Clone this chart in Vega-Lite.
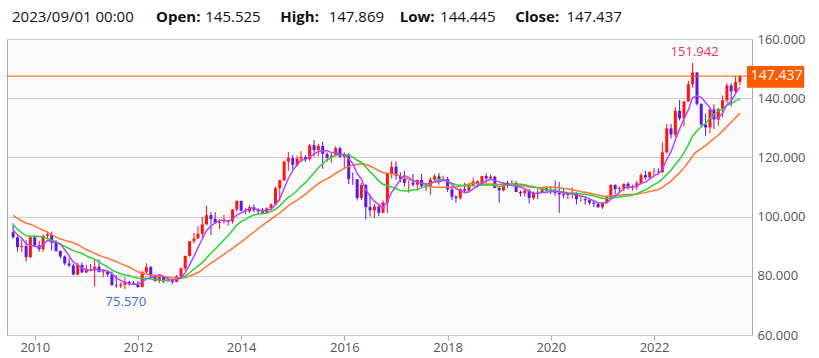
{
  "$schema": "https://vega.github.io/schema/vega-lite/v6.json",
  "width": 745,
  "height": 296,
  "autosize": {"type": "none"},
  "padding": {"left": 7, "top": 39, "right": 67, "bottom": 23},
  "background": "#ffffff",
  "config": {
    "view": {"fill": "#fafafa", "stroke": "#aaaaaa", "strokeWidth": 1},
    "font": "Open Sans"
  },
  "data": {
    "values": [
      {"date":"2009-08-01","open":94.7,"high":97.8,"low":92.6,"close":93.0,"ma5":95.60,"ma13":97.20,"ma21":100.42},
      {"date":"2009-09-01","open":93.0,"high":93.3,"low":88.2,"close":89.7,"ma5":93.82,"ma13":95.73,"ma21":99.38},
      {"date":"2009-10-01","open":89.7,"high":92.3,"low":88.0,"close":90.1,"ma5":92.78,"ma13":94.50,"ma21":98.60},
      {"date":"2009-11-01","open":90.1,"high":92.0,"low":84.8,"close":86.3,"ma5":90.76,"ma13":93.57,"ma21":97.76},
      {"date":"2009-12-01","open":86.3,"high":93.1,"low":86.0,"close":93.0,"ma5":90.42,"ma13":93.38,"ma21":97.44},
      {"date":"2010-01-01","open":93.0,"high":93.8,"low":89.9,"close":90.3,"ma5":89.88,"ma13":93.36,"ma21":96.79},
      {"date":"2010-02-01","open":90.3,"high":91.8,"low":88.1,"close":89.0,"ma5":89.74,"ma13":93.29,"ma21":96.00},
      {"date":"2010-03-01","open":89.0,"high":93.8,"low":88.1,"close":93.5,"ma5":90.42,"ma13":92.98,"ma21":95.40},
      {"date":"2010-04-01","open":93.5,"high":94.9,"low":92.4,"close":94.0,"ma5":91.96,"ma13":92.61,"ma21":94.74},
      {"date":"2010-05-01","open":94.0,"high":94.9,"low":88.6,"close":91.2,"ma5":91.60,"ma13":92.04,"ma21":93.90},
      {"date":"2010-06-01","open":91.2,"high":92.0,"low":88.1,"close":88.4,"ma5":91.22,"ma13":91.51,"ma21":93.06},
      {"date":"2010-07-01","open":88.4,"high":88.5,"low":85.9,"close":86.5,"ma5":90.72,"ma13":90.75,"ma21":92.49},
      {"date":"2010-08-01","open":86.5,"high":86.9,"low":83.6,"close":84.2,"ma5":88.86,"ma13":89.94,"ma21":91.96},
      {"date":"2010-09-01","open":84.2,"high":85.9,"low":82.9,"close":83.5,"ma5":86.76,"ma13":89.21,"ma21":91.62},
      {"date":"2010-10-01","open":83.5,"high":84.0,"low":80.2,"close":80.4,"ma5":84.60,"ma13":88.49,"ma21":91.17},
      {"date":"2010-11-01","open":80.4,"high":84.4,"low":80.2,"close":83.7,"ma5":83.66,"ma13":88.00,"ma21":90.50},
      {"date":"2010-12-01","open":83.7,"high":84.5,"low":81.1,"close":81.1,"ma5":82.58,"ma13":87.60,"ma21":89.66},
      {"date":"2011-01-01","open":81.1,"high":83.7,"low":81.0,"close":82.0,"ma5":82.14,"ma13":86.75,"ma21":88.87},
      {"date":"2011-02-01","open":82.0,"high":84.0,"low":81.5,"close":81.8,"ma5":81.80,"ma13":86.10,"ma21":88.23},
      {"date":"2011-03-01","open":81.8,"high":85.5,"low":76.3,"close":83.1,"ma5":82.34,"ma13":85.65,"ma21":87.60},
      {"date":"2011-04-01","open":83.1,"high":85.5,"low":81.3,"close":81.2,"ma5":81.84,"ma13":84.70,"ma21":86.95},
      {"date":"2011-05-01","open":81.2,"high":82.2,"low":79.6,"close":81.5,"ma5":81.92,"ma13":83.74,"ma21":86.40},
      {"date":"2011-06-01","open":81.5,"high":81.6,"low":79.7,"close":80.5,"ma5":81.62,"ma13":82.92,"ma21":85.97},
      {"date":"2011-07-01","open":80.5,"high":81.5,"low":76.8,"close":76.8,"ma5":80.62,"ma13":82.02,"ma21":85.33},
      {"date":"2011-08-01","open":76.8,"high":80.2,"low":75.9,"close":76.6,"ma5":79.32,"ma13":81.26,"ma21":84.87},
      {"date":"2011-09-01","open":76.6,"high":77.8,"low":75.9,"close":77.0,"ma5":78.48,"ma13":80.71,"ma21":84.11},
      {"date":"2011-10-01","open":77.0,"high":79.5,"low":75.57,"close":78.0,"ma5":77.78,"ma13":80.28,"ma21":83.52},
      {"date":"2011-11-01","open":78.0,"high":78.3,"low":76.6,"close":77.6,"ma5":77.20,"ma13":80.07,"ma21":82.98},
      {"date":"2011-12-01","open":77.6,"high":78.3,"low":76.9,"close":76.9,"ma5":77.22,"ma13":79.55,"ma21":82.19},
      {"date":"2012-01-01","open":76.9,"high":78.3,"low":76.0,"close":76.2,"ma5":77.14,"ma13":79.17,"ma21":81.34},
      {"date":"2012-02-01","open":76.2,"high":81.7,"low":76.1,"close":81.2,"ma5":77.98,"ma13":79.11,"ma21":80.87},
      {"date":"2012-03-01","open":81.2,"high":84.2,"low":80.9,"close":82.9,"ma5":78.96,"ma13":79.19,"ma21":80.60},
      {"date":"2012-04-01","open":82.9,"high":83.3,"low":79.6,"close":80.0,"ma5":79.44,"ma13":78.95,"ma21":80.30},
      {"date":"2012-05-01","open":80.0,"high":80.5,"low":78.0,"close":78.3,"ma5":79.72,"ma13":78.73,"ma21":80.01},
      {"date":"2012-06-01","open":78.3,"high":80.6,"low":77.6,"close":79.8,"ma5":80.44,"ma13":78.60,"ma21":79.84},
      {"date":"2012-07-01","open":79.8,"high":79.9,"low":77.6,"close":78.1,"ma5":79.82,"ma13":78.42,"ma21":79.73},
      {"date":"2012-08-01","open":78.1,"high":79.7,"low":78.1,"close":78.4,"ma5":78.92,"ma13":78.54,"ma21":79.48},
      {"date":"2012-09-01","open":78.4,"high":79.2,"low":77.1,"close":77.9,"ma5":78.50,"ma13":78.64,"ma21":79.32},
      {"date":"2012-10-01","open":77.9,"high":80.3,"low":77.8,"close":79.8,"ma5":78.80,"ma13":78.85,"ma21":79.22},
      {"date":"2012-11-01","open":79.8,"high":82.8,"low":79.0,"close":82.5,"ma5":79.34,"ma13":79.20,"ma21":79.25},
      {"date":"2012-12-01","open":82.5,"high":86.8,"low":81.7,"close":86.7,"ma5":81.06,"ma13":79.90,"ma21":79.42},
      {"date":"2013-01-01","open":86.7,"high":91.8,"low":86.5,"close":91.7,"ma5":83.72,"ma13":81.04,"ma21":79.92},
      {"date":"2013-02-01","open":91.7,"high":94.5,"low":90.9,"close":92.6,"ma5":86.66,"ma13":82.30,"ma21":80.45},
      {"date":"2013-03-01","open":92.6,"high":96.7,"low":92.5,"close":94.2,"ma5":89.54,"ma13":83.30,"ma21":81.10},
      {"date":"2013-04-01","open":94.2,"high":99.9,"low":92.6,"close":97.4,"ma5":92.52,"ma13":84.42,"ma21":82.09},
      {"date":"2013-05-01","open":97.4,"high":103.7,"low":97.1,"close":100.5,"ma5":95.28,"ma13":85.99,"ma21":83.22},
      {"date":"2013-06-01","open":100.5,"high":101.5,"low":93.8,"close":99.2,"ma5":96.78,"ma13":87.60,"ma21":84.28},
      {"date":"2013-07-01","open":99.2,"high":101.5,"low":97.6,"close":97.9,"ma5":97.84,"ma13":88.99,"ma21":85.23},
      {"date":"2013-08-01","open":97.9,"high":99.1,"low":95.8,"close":98.2,"ma5":98.64,"ma13":90.54,"ma21":86.21},
      {"date":"2013-09-01","open":98.2,"high":100.6,"low":97.6,"close":98.3,"ma5":98.82,"ma13":92.07,"ma21":87.23},
      {"date":"2013-10-01","open":98.3,"high":99.0,"low":96.9,"close":98.4,"ma5":98.40,"ma13":93.65,"ma21":88.29},
      {"date":"2013-11-01","open":98.4,"high":102.5,"low":97.6,"close":102.4,"ma5":99.04,"ma13":95.38,"ma21":89.30},
      {"date":"2013-12-01","open":102.4,"high":105.4,"low":101.6,"close":105.3,"ma5":100.52,"ma13":97.14,"ma21":90.36},
      {"date":"2014-01-01","open":105.3,"high":105.4,"low":101.8,"close":102.0,"ma5":101.28,"ma13":98.32,"ma21":91.41},
      {"date":"2014-02-01","open":102.0,"high":102.8,"low":100.8,"close":101.8,"ma5":101.98,"ma13":99.09,"ma21":92.53},
      {"date":"2014-03-01","open":101.8,"high":103.8,"low":101.2,"close":103.2,"ma5":102.94,"ma13":99.91,"ma21":93.64},
      {"date":"2014-04-01","open":103.2,"high":104.1,"low":101.4,"close":102.2,"ma5":102.90,"ma13":100.52,"ma21":94.79},
      {"date":"2014-05-01","open":102.2,"high":102.8,"low":100.8,"close":101.8,"ma5":102.20,"ma13":100.86,"ma21":95.90},
      {"date":"2014-06-01","open":101.8,"high":102.8,"low":101.1,"close":101.3,"ma5":102.06,"ma13":100.92,"ma21":97.02},
      {"date":"2014-07-01","open":101.3,"high":103.1,"low":101.1,"close":102.8,"ma5":102.26,"ma13":101.20,"ma21":98.11},
      {"date":"2014-08-01","open":102.8,"high":104.5,"low":102.0,"close":104.1,"ma5":102.44,"ma13":101.68,"ma21":99.14},
      {"date":"2014-09-01","open":104.1,"high":110.1,"low":103.7,"close":109.6,"ma5":103.92,"ma13":102.55,"ma21":100.23},
      {"date":"2014-10-01","open":109.6,"high":112.5,"low":105.2,"close":112.3,"ma5":106.02,"ma13":103.63,"ma21":101.21},
      {"date":"2014-11-01","open":112.3,"high":118.9,"low":112.0,"close":118.6,"ma5":109.48,"ma13":105.18,"ma21":102.45},
      {"date":"2014-12-01","open":118.6,"high":121.8,"low":115.5,"close":119.8,"ma5":112.88,"ma13":106.52,"ma21":103.67},
      {"date":"2015-01-01","open":119.8,"high":120.8,"low":115.9,"close":117.5,"ma5":115.56,"ma13":107.46,"ma21":104.63},
      {"date":"2015-02-01","open":117.5,"high":120.5,"low":116.8,"close":119.6,"ma5":117.56,"ma13":108.82,"ma21":105.54},
      {"date":"2015-03-01","open":119.6,"high":122.0,"low":118.3,"close":120.1,"ma5":119.12,"ma13":110.22,"ma21":106.53},
      {"date":"2015-04-01","open":120.1,"high":120.8,"low":118.5,"close":119.4,"ma5":119.28,"ma13":111.47,"ma21":107.56},
      {"date":"2015-05-01","open":119.4,"high":124.5,"low":118.9,"close":124.1,"ma5":120.14,"ma13":113.15,"ma21":108.79},
      {"date":"2015-06-01","open":124.1,"high":125.9,"low":120.4,"close":122.5,"ma5":121.14,"ma13":114.75,"ma21":109.94},
      {"date":"2015-07-01","open":122.5,"high":124.6,"low":120.4,"close":123.9,"ma5":122.00,"ma13":116.48,"ma21":111.16},
      {"date":"2015-08-01","open":123.9,"high":125.3,"low":116.2,"close":121.2,"ma5":122.22,"ma13":117.90,"ma21":112.05},
      {"date":"2015-09-01","open":121.2,"high":121.7,"low":118.6,"close":119.9,"ma5":122.32,"ma13":119.12,"ma21":112.75},
      {"date":"2015-10-01","open":119.9,"high":121.5,"low":118.1,"close":120.6,"ma5":121.62,"ma13":119.96,"ma21":113.63},
      {"date":"2015-11-01","open":120.6,"high":123.8,"low":120.3,"close":123.1,"ma5":121.74,"ma13":120.79,"ma21":114.65},
      {"date":"2015-12-01","open":123.1,"high":123.7,"low":119.9,"close":120.2,"ma5":121.00,"ma13":120.92,"ma21":115.46},
      {"date":"2016-01-01","open":120.2,"high":121.7,"low":116.0,"close":121.0,"ma5":120.96,"ma13":121.01,"ma21":116.35},
      {"date":"2016-02-01","open":121.0,"high":121.5,"low":111.0,"close":112.7,"ma5":119.52,"ma13":120.64,"ma21":116.87},
      {"date":"2016-03-01","open":112.7,"high":114.9,"low":110.7,"close":112.6,"ma5":117.92,"ma13":120.10,"ma21":117.41},
      {"date":"2016-04-01","open":112.6,"high":112.7,"low":105.5,"close":106.3,"ma5":114.56,"ma13":119.04,"ma21":117.58},
      {"date":"2016-05-01","open":106.3,"high":111.4,"low":105.6,"close":110.7,"ma5":112.66,"ma13":118.37,"ma21":117.89},
      {"date":"2016-06-01","open":110.7,"high":110.9,"low":99.0,"close":103.2,"ma5":109.10,"ma13":116.76,"ma21":117.59},
      {"date":"2016-07-01","open":103.2,"high":107.5,"low":100.0,"close":102.1,"ma5":106.98,"ma13":115.19,"ma21":117.10},
      {"date":"2016-08-01","open":102.1,"high":104.3,"low":99.5,"close":103.4,"ma5":105.14,"ma13":113.62,"ma21":116.38},
      {"date":"2016-09-01","open":103.4,"high":104.0,"low":100.1,"close":101.3,"ma5":104.14,"ma13":112.08,"ma21":115.50},
      {"date":"2016-10-01","open":101.3,"high":105.5,"low":101.2,"close":104.8,"ma5":102.96,"ma13":110.92,"ma21":114.89},
      {"date":"2016-11-01","open":104.8,"high":114.8,"low":101.2,"close":114.5,"ma5":105.22,"ma13":110.45,"ma21":114.65},
      {"date":"2016-12-01","open":114.5,"high":118.7,"low":112.9,"close":116.9,"ma5":108.18,"ma13":109.98,"ma21":114.50},
      {"date":"2017-01-01","open":116.9,"high":118.6,"low":112.5,"close":113.8,"ma5":110.26,"ma13":109.48,"ma21":114.23},
      {"date":"2017-02-01","open":113.8,"high":114.9,"low":111.6,"close":112.8,"ma5":112.56,"ma13":108.85,"ma21":113.69},
      {"date":"2017-03-01","open":112.8,"high":115.5,"low":110.1,"close":111.4,"ma5":113.88,"ma13":108.75,"ma21":113.16},
      {"date":"2017-04-01","open":111.4,"high":112.2,"low":108.1,"close":111.5,"ma5":113.28,"ma13":108.67,"ma21":112.57},
      {"date":"2017-05-01","open":111.5,"high":114.4,"low":110.2,"close":110.8,"ma5":112.06,"ma13":109.02,"ma21":112.08},
      {"date":"2017-06-01","open":110.8,"high":112.5,"low":108.8,"close":112.4,"ma5":111.78,"ma13":109.15,"ma21":111.72},
      {"date":"2017-07-01","open":112.4,"high":114.5,"low":110.0,"close":110.3,"ma5":111.28,"ma13":109.69,"ma21":111.23},
      {"date":"2017-08-01","open":110.3,"high":111.1,"low":108.6,"close":110.0,"ma5":111.00,"ma13":110.30,"ma21":110.60},
      {"date":"2017-09-01","open":110.0,"high":113.3,"low":107.3,"close":112.5,"ma5":111.20,"ma13":111.00,"ma21":110.24},
      {"date":"2017-10-01","open":112.5,"high":114.4,"low":111.7,"close":113.6,"ma5":111.76,"ma13":111.95,"ma21":109.89},
      {"date":"2017-11-01","open":113.6,"high":114.7,"low":110.8,"close":112.5,"ma5":111.78,"ma13":112.54,"ma21":109.88},
      {"date":"2017-12-01","open":112.5,"high":113.8,"low":111.9,"close":112.7,"ma5":112.26,"ma13":112.40,"ma21":109.88},
      {"date":"2018-01-01","open":112.7,"high":113.4,"low":108.3,"close":109.2,"ma5":112.10,"ma13":111.81,"ma21":110.02},
      {"date":"2018-02-01","open":109.2,"high":110.5,"low":105.6,"close":106.7,"ma5":110.94,"ma13":111.26,"ma21":109.83},
      {"date":"2018-03-01","open":106.7,"high":107.3,"low":104.6,"close":106.3,"ma5":109.48,"ma13":110.76,"ma21":109.98},
      {"date":"2018-04-01","open":106.3,"high":109.6,"low":105.7,"close":109.3,"ma5":108.84,"ma13":110.60,"ma21":110.32},
      {"date":"2018-05-01","open":109.3,"high":111.4,"low":108.1,"close":108.8,"ma5":108.06,"ma13":110.39,"ma21":110.58},
      {"date":"2018-06-01","open":108.8,"high":111.0,"low":108.1,"close":110.7,"ma5":108.36,"ma13":110.38,"ma21":111.02},
      {"date":"2018-07-01","open":110.7,"high":113.2,"low":110.3,"close":111.9,"ma5":109.40,"ma13":110.35,"ma21":111.36},
      {"date":"2018-08-01","open":111.9,"high":112.2,"low":109.8,"close":111.0,"ma5":110.34,"ma13":110.40,"ma21":111.20},
      {"date":"2018-09-01","open":111.0,"high":113.8,"low":110.4,"close":113.7,"ma5":111.22,"ma13":110.68,"ma21":111.04},
      {"date":"2018-10-01","open":113.7,"high":114.6,"low":111.4,"close":112.9,"ma5":112.04,"ma13":110.72,"ma21":111.00},
      {"date":"2018-11-01","open":112.9,"high":114.2,"low":112.3,"close":113.5,"ma5":112.60,"ma13":110.71,"ma21":111.03},
      {"date":"2018-12-01","open":113.5,"high":113.8,"low":109.5,"close":109.7,"ma5":112.16,"ma13":110.49,"ma21":110.95},
      {"date":"2019-01-01","open":109.7,"high":110.0,"low":104.7,"close":108.9,"ma5":111.74,"ma13":110.20,"ma21":110.83},
      {"date":"2019-02-01","open":108.9,"high":111.5,"low":108.5,"close":111.4,"ma5":111.28,"ma13":110.37,"ma21":110.86},
      {"date":"2019-03-01","open":111.4,"high":112.1,"low":109.7,"close":110.9,"ma5":110.88,"ma13":110.69,"ma21":110.79},
      {"date":"2019-04-01","open":110.9,"high":112.4,"low":110.8,"close":111.4,"ma5":110.46,"ma13":111.08,"ma21":110.84},
      {"date":"2019-05-01","open":111.4,"high":112.0,"low":108.3,"close":108.3,"ma5":110.18,"ma13":111.01,"ma21":110.76},
      {"date":"2019-06-01","open":108.3,"high":108.8,"low":106.8,"close":107.9,"ma5":109.98,"ma13":110.94,"ma21":110.54},
      {"date":"2019-07-01","open":107.9,"high":109.3,"low":106.8,"close":108.8,"ma5":109.46,"ma13":110.79,"ma21":110.31},
      {"date":"2019-08-01","open":108.8,"high":109.3,"low":104.4,"close":106.3,"ma5":108.54,"ma13":110.36,"ma21":110.01},
      {"date":"2019-09-01","open":106.3,"high":108.5,"low":105.7,"close":108.1,"ma5":107.88,"ma13":110.14,"ma21":109.80},
      {"date":"2019-10-01","open":108.1,"high":109.3,"low":105.9,"close":108.0,"ma5":107.82,"ma13":109.70,"ma21":109.74},
      {"date":"2019-11-01","open":108.0,"high":109.7,"low":107.9,"close":109.5,"ma5":108.14,"ma13":109.44,"ma21":109.87},
      {"date":"2019-12-01","open":109.5,"high":109.7,"low":108.4,"close":108.7,"ma5":108.12,"ma13":109.07,"ma21":109.99},
      {"date":"2020-01-01","open":108.7,"high":110.3,"low":107.6,"close":108.4,"ma5":108.54,"ma13":108.97,"ma21":109.94},
      {"date":"2020-02-01","open":108.4,"high":112.2,"low":107.0,"close":108.0,"ma5":108.52,"ma13":108.90,"ma21":109.90},
      {"date":"2020-03-01","open":108.0,"high":111.7,"low":101.2,"close":107.5,"ma5":108.42,"ma13":108.60,"ma21":109.75},
      {"date":"2020-04-01","open":107.5,"high":109.4,"low":106.3,"close":107.2,"ma5":107.96,"ma13":108.32,"ma21":109.53},
      {"date":"2020-05-01","open":107.2,"high":108.1,"low":106.0,"close":107.8,"ma5":107.78,"ma13":108.04,"ma21":109.38},
      {"date":"2020-06-01","open":107.8,"high":109.9,"low":106.1,"close":107.9,"ma5":107.68,"ma13":108.01,"ma21":109.10},
      {"date":"2020-07-01","open":107.9,"high":108.2,"low":104.2,"close":105.9,"ma5":107.26,"ma13":107.85,"ma21":108.77},
      {"date":"2020-08-01","open":105.9,"high":107.1,"low":105.1,"close":105.9,"ma5":106.94,"ma13":107.63,"ma21":108.40},
      {"date":"2020-09-01","open":105.9,"high":106.6,"low":104.0,"close":105.5,"ma5":106.60,"ma13":107.57,"ma21":108.20},
      {"date":"2020-10-01","open":105.5,"high":106.1,"low":104.0,"close":104.7,"ma5":105.98,"ma13":107.31,"ma21":108.00},
      {"date":"2020-11-01","open":104.7,"high":105.7,"low":103.2,"close":104.3,"ma5":105.26,"ma13":107.02,"ma21":107.67},
      {"date":"2020-12-01","open":104.3,"high":104.7,"low":102.9,"close":103.2,"ma5":104.72,"ma13":106.54,"ma21":107.30},
      {"date":"2021-01-01","open":103.2,"high":104.9,"low":102.6,"close":104.7,"ma5":104.48,"ma13":106.23,"ma21":106.98},
      {"date":"2021-02-01","open":104.7,"high":106.7,"low":104.4,"close":106.6,"ma5":104.70,"ma13":106.09,"ma21":106.90},
      {"date":"2021-03-01","open":106.6,"high":110.9,"low":106.4,"close":110.7,"ma5":105.90,"ma13":106.30,"ma21":107.03},
      {"date":"2021-04-01","open":110.7,"high":110.9,"low":107.5,"close":109.3,"ma5":106.90,"ma13":106.44,"ma21":107.06},
      {"date":"2021-05-01","open":109.3,"high":110.2,"low":108.3,"close":109.6,"ma5":108.18,"ma13":106.62,"ma21":107.21},
      {"date":"2021-06-01","open":109.6,"high":111.1,"low":108.6,"close":111.1,"ma5":109.46,"ma13":106.88,"ma21":107.36},
      {"date":"2021-07-01","open":111.1,"high":111.7,"low":109.1,"close":109.7,"ma5":110.08,"ma13":107.02,"ma21":107.44},
      {"date":"2021-08-01","open":109.7,"high":110.8,"low":108.7,"close":110.0,"ma5":109.94,"ma13":107.33,"ma21":107.46},
      {"date":"2021-09-01","open":110.0,"high":112.1,"low":109.1,"close":111.3,"ma5":110.34,"ma13":107.75,"ma21":107.59},
      {"date":"2021-10-01","open":111.3,"high":114.7,"low":110.8,"close":114.0,"ma5":111.22,"ma13":108.40,"ma21":107.85},
      {"date":"2021-11-01","open":114.0,"high":115.5,"low":112.5,"close":113.2,"ma5":111.64,"ma13":109.05,"ma21":108.10},
      {"date":"2021-12-01","open":113.2,"high":115.2,"low":112.6,"close":115.1,"ma5":112.72,"ma13":109.88,"ma21":108.46},
      {"date":"2022-01-01","open":115.1,"high":116.4,"low":113.5,"close":115.2,"ma5":113.74,"ma13":110.80,"ma21":108.84},
      {"date":"2022-02-01","open":115.2,"high":116.3,"low":114.2,"close":115.0,"ma5":114.48,"ma13":111.59,"ma21":109.18},
      {"date":"2022-03-01","open":115.0,"high":125.1,"low":114.7,"close":121.7,"ma5":116.02,"ma13":112.75,"ma21":109.84},
      {"date":"2022-04-01","open":121.7,"high":131.3,"low":121.3,"close":129.8,"ma5":119.34,"ma13":114.22,"ma21":110.98},
      {"date":"2022-05-01","open":129.8,"high":131.3,"low":126.4,"close":127.7,"ma5":121.86,"ma13":115.64,"ma21":112.01},
      {"date":"2022-06-01","open":127.7,"high":137.0,"low":126.9,"close":135.7,"ma5":125.98,"ma13":117.65,"ma21":113.45},
      {"date":"2022-07-01","open":135.7,"high":139.4,"low":132.5,"close":133.2,"ma5":129.62,"ma13":119.35,"ma21":114.81},
      {"date":"2022-08-01","open":133.2,"high":139.1,"low":130.4,"close":138.9,"ma5":133.06,"ma13":121.59,"ma21":116.46},
      {"date":"2022-09-01","open":138.9,"high":145.9,"low":138.8,"close":144.7,"ma5":136.04,"ma13":124.26,"ma21":118.43},
      {"date":"2022-10-01","open":144.7,"high":151.942,"low":143.5,"close":148.7,"ma5":140.24,"ma13":127.14,"ma21":120.53},
      {"date":"2022-11-01","open":148.7,"high":148.8,"low":137.5,"close":138.1,"ma5":140.72,"ma13":128.99,"ma21":122.03},
      {"date":"2022-12-01","open":138.1,"high":138.2,"low":130.6,"close":131.1,"ma5":140.30,"ma13":130.37,"ma21":123.00},
      {"date":"2023-01-01","open":131.1,"high":134.8,"low":127.2,"close":130.1,"ma5":138.54,"ma13":131.52,"ma21":123.99},
      {"date":"2023-02-01","open":130.1,"high":136.9,"low":128.1,"close":136.2,"ma5":136.84,"ma13":133.15,"ma21":125.26},
      {"date":"2023-03-01","open":136.2,"high":137.9,"low":129.6,"close":132.8,"ma5":133.66,"ma13":134.52,"ma21":126.29},
      {"date":"2023-04-01","open":132.8,"high":136.6,"low":130.6,"close":136.3,"ma5":133.30,"ma13":135.64,"ma21":127.56},
      {"date":"2023-05-01","open":136.3,"high":140.9,"low":133.5,"close":139.3,"ma5":134.94,"ma13":136.37,"ma21":128.95},
      {"date":"2023-06-01","open":139.3,"high":145.1,"low":138.4,"close":144.3,"ma5":137.78,"ma13":137.65,"ma21":130.52},
      {"date":"2023-07-01","open":144.3,"high":145.1,"low":137.2,"close":142.3,"ma5":139.00,"ma13":138.15,"ma21":131.87},
      {"date":"2023-08-01","open":142.3,"high":147.4,"low":141.5,"close":145.5,"ma5":141.54,"ma13":139.10,"ma21":133.41},
      {"date":"2023-09-01","open":145.525,"high":147.869,"low":144.445,"close":147.437,"ma5":143.76,"ma13":139.75,"ma21":134.95}
    ]
  },
  "encoding": {
    "x": {
      "field": "date",
      "type": "temporal",
      "scale": {
        "type": "utc",
        "domain": [
          {"year": 2009, "month": 7, "date": 24, "utc": true},
          {"year": 2023, "month": 10, "date": 21, "utc": true}
        ]
      },
      "axis": {
        "orient": "bottom",
        "title": null,
        "values": [
          {"year": 2010, "month": 1, "date": 1, "utc": true},
          {"year": 2012, "month": 1, "date": 1, "utc": true},
          {"year": 2014, "month": 1, "date": 1, "utc": true},
          {"year": 2016, "month": 1, "date": 1, "utc": true},
          {"year": 2018, "month": 1, "date": 1, "utc": true},
          {"year": 2020, "month": 1, "date": 1, "utc": true},
          {"year": 2022, "month": 1, "date": 1, "utc": true}
        ],
        "format": "%Y",
        "grid": false,
        "domain": false,
        "ticks": true,
        "tickSize": 5,
        "tickColor": "#aaaaaa",
        "labelFont": "Open Sans",
        "labelFontSize": 13,
        "labelColor": "#555555",
        "labelPadding": 1
      }
    }
  },
  "layer": [
    {
      "mark": {"type": "rule", "strokeWidth": 1},
      "encoding": {
        "y": {
          "field": "low",
          "type": "quantitative",
          "scale": {"domain": [60, 160], "nice": false, "zero": false},
          "axis": {
            "orient": "right",
            "title": null,
            "values": [60, 80, 100, 120, 140, 160],
            "format": ".3f",
            "grid": true,
            "gridColor": "#cccccc",
            "domain": false,
            "ticks": false,
            "labelPadding": 5,
            "labelFont": "Open Sans",
            "labelFontSize": 13,
            "labelColor": "#555555"
          }
        },
        "y2": {"field": "high"},
        "color": {"condition": {"test": "datum.close >= datum.open", "value": "#ff1414"}, "value": "#5d17e0"}
      }
    },
    {
      "mark": {"type": "bar", "size": 3},
      "encoding": {
        "y": {"field": "open", "type": "quantitative"},
        "y2": {"field": "close"},
        "color": {"condition": {"test": "datum.close >= datum.open", "value": "#ff1414"}, "value": "#5d17e0"}
      }
    },
    {
      "mark": {"type": "line", "color": "#ff7433", "strokeWidth": 1.5},
      "encoding": {"y": {"field": "ma21", "type": "quantitative"}}
    },
    {
      "mark": {"type": "line", "color": "#2ed12e", "strokeWidth": 1.5},
      "encoding": {"y": {"field": "ma13", "type": "quantitative"}}
    },
    {
      "mark": {"type": "line", "color": "#b347ff", "strokeWidth": 1.5},
      "encoding": {"y": {"field": "ma5", "type": "quantitative"}}
    },
    {
      "transform": [{"filter": "datum.high == 151.942"}],
      "mark": {"type": "text", "color": "#e6336b", "fontSize": 13, "font": "Open Sans", "baseline": "alphabetic", "dy": -7, "dx": 2},
      "encoding": {
        "y": {"field": "high", "type": "quantitative"},
        "text": {"field": "high", "type": "quantitative", "format": ".3f"}
      }
    },
    {
      "transform": [{"filter": "datum.low == 75.57"}],
      "mark": {"type": "text", "color": "#3a6cd6", "fontSize": 13, "font": "Open Sans", "baseline": "middle", "dy": 13, "dx": 1},
      "encoding": {
        "y": {"field": "low", "type": "quantitative"},
        "text": {"field": "low", "type": "quantitative", "format": ".3f"}
      }
    },
    {
      "transform": [{"filter": "datum.close == 147.437"}],
      "layer": [
        {
          "mark": {"type": "rule", "color": "#ff5a00", "strokeWidth": 1},
          "encoding": {
            "x": {"value": 0},
            "x2": {"value": "width"},
            "y": {"field": "close", "type": "quantitative"}
          }
        },
        {
          "mark": {"type": "rect", "color": "#ff5a00", "clip": false},
          "encoding": {
            "x": {"datum": {"year": 2023, "month": 10, "date": 21, "utc": true}, "type": "temporal"},
            "x2": {"datum": {"year": 2024, "month": 11, "date": 29, "utc": true}},
            "y": {"datum": 150.9, "type": "quantitative"},
            "y2": {"datum": 143.5}
          }
        },
        {
          "mark": {"type": "text", "color": "#ffffff", "fontSize": 14, "font": "Open Sans", "align": "center", "baseline": "middle"},
          "encoding": {
            "x": {"datum": {"year": 2024, "month": 5, "date": 18, "utc": true}, "type": "temporal"},
            "y": {"field": "close", "type": "quantitative"},
            "text": {"field": "close", "type": "quantitative", "format": ".3f"}
          }
        },
        {
          "mark": {"type": "text", "color": "#111111", "fontSize": 15, "font": "Open Sans", "align": "left", "baseline": "alphabetic"},
          "encoding": {
            "x": {"datum": {"year": 2009, "month": 7, "date": 24, "utc": true}, "type": "temporal"},
            "y": {"datum": 165.74, "type": "quantitative"},
            "text": {"value": "2023/09/01 00:00"}
          }
        },
        {
          "mark": {"type": "text", "color": "#111111", "fontSize": 15, "font": "Open Sans", "fontWeight": "bold", "align": "left", "baseline": "alphabetic"},
          "encoding": {
            "x": {"datum": {"year": 2012, "month": 5, "date": 8, "utc": true}, "type": "temporal"},
            "y": {"datum": 165.74, "type": "quantitative"},
            "text": {"value": "Open:"}
          }
        },
        {
          "mark": {"type": "text", "color": "#111111", "fontSize": 15, "font": "Open Sans", "align": "left", "baseline": "alphabetic"},
          "encoding": {
            "x": {"datum": {"year": 2013, "month": 4, "date": 22, "utc": true}, "type": "temporal"},
            "y": {"datum": 165.74, "type": "quantitative"},
            "text": {"field": "open", "type": "quantitative", "format": ".3f"}
          }
        },
        {
          "mark": {"type": "text", "color": "#111111", "fontSize": 15, "font": "Open Sans", "fontWeight": "bold", "align": "left", "baseline": "alphabetic"},
          "encoding": {
            "x": {"datum": {"year": 2014, "month": 10, "date": 5, "utc": true}, "type": "temporal"},
            "y": {"datum": 165.74, "type": "quantitative"},
            "text": {"value": "High:"}
          }
        },
        {
          "mark": {"type": "text", "color": "#111111", "fontSize": 15, "font": "Open Sans", "align": "left", "baseline": "alphabetic"},
          "encoding": {
            "x": {"datum": {"year": 2015, "month": 9, "date": 12, "utc": true}, "type": "temporal"},
            "y": {"datum": 165.74, "type": "quantitative"},
            "text": {"field": "high", "type": "quantitative", "format": ".3f"}
          }
        },
        {
          "mark": {"type": "text", "color": "#111111", "fontSize": 15, "font": "Open Sans", "fontWeight": "bold", "align": "left", "baseline": "alphabetic"},
          "encoding": {
            "x": {"datum": {"year": 2017, "month": 1, "date": 27, "utc": true}, "type": "temporal"},
            "y": {"datum": 165.74, "type": "quantitative"},
            "text": {"value": "Low:"}
          }
        },
        {
          "mark": {"type": "text", "color": "#111111", "fontSize": 15, "font": "Open Sans", "align": "left", "baseline": "alphabetic"},
          "encoding": {
            "x": {"datum": {"year": 2017, "month": 11, "date": 9, "utc": true}, "type": "temporal"},
            "y": {"datum": 165.74, "type": "quantitative"},
            "text": {"field": "low", "type": "quantitative", "format": ".3f"}
          }
        },
        {
          "mark": {"type": "text", "color": "#111111", "fontSize": 15, "font": "Open Sans", "fontWeight": "bold", "align": "left", "baseline": "alphabetic"},
          "encoding": {
            "x": {"datum": {"year": 2019, "month": 4, "date": 24, "utc": true}, "type": "temporal"},
            "y": {"datum": 165.74, "type": "quantitative"},
            "text": {"value": "Close:"}
          }
        },
        {
          "mark": {"type": "text", "color": "#111111", "fontSize": 15, "font": "Open Sans", "align": "left", "baseline": "alphabetic"},
          "encoding": {
            "x": {"datum": {"year": 2020, "month": 4, "date": 21, "utc": true}, "type": "temporal"},
            "y": {"datum": 165.74, "type": "quantitative"},
            "text": {"field": "close", "type": "quantitative", "format": ".3f"}
          }
        }
      ]
    }
  ]
}
